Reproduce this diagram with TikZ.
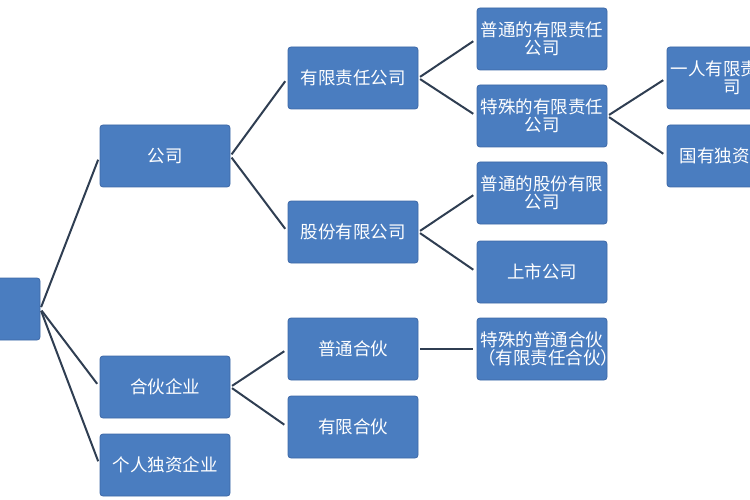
\documentclass[tikz,border=0pt]{standalone}
\usepackage{fontspec}
\newfontfamily\cjk{Noto Sans CJK SC}
\usepackage{tikz}
\usepackage{xcolor}
\definecolor{boxblue}{HTML}{4A7DC0}
\definecolor{boxedge}{HTML}{3D68A6}
\definecolor{linkgray}{HTML}{2F3E52}

\begin{document}
\begin{tikzpicture}[x=1pt, y=-1pt,
		box/.style={rectangle, rounded corners=3pt, fill=boxblue, draw=boxedge, line width=0.8pt,
			minimum width=130pt, minimum height=62pt, inner sep=1pt, text width=128pt,
			text=white, align=center, font=\cjk\fontsize{17.5}{18}\selectfont},
		link/.style={draw=linkgray, line width=2pt, shorten <=2pt, shorten >=4pt}]
		\useasboundingbox (0,0) rectangle (750,500);

		% Root (cut off at the left edge)
		\node[box] (root) at (-25,309) {};

		% Level 1
		\node[box] (gongsi) at (165,156) {公司};
		\node[box] (hehuo) at (165,387) {合伙企业};
		\node[box] (geren) at (165,465) {个人独资企业};

		% Level 2
		\node[box] (youxian) at (353,78) {有限责任公司};
		\node[box] (gufen) at (353,232) {股份有限公司};
		\node[box] (pthh) at (353,349) {普通合伙};
		\node[box] (yxhh) at (353,427) {有限合伙};

		% Level 3
		\node[box] (ptyx) at (542,39) {普通的有限责任\\公司};
		\node[box] (tsyx) at (542,116) {特殊的有限责任\\公司};
		\node[box] (ptgf) at (542,193) {普通的股份有限\\公司};
		\node[box] (shangshi) at (542,272) {上市公司};
		\node[box] (tshh) at (542,349) {特殊的普通合伙\\（有限责任合伙）};

		% Level 4 (cut off at the right edge)
		\node[box] (yiren) at (732,78) {一人有限责任公\\司};
		\node[box] (guoyou) at (732,156) {国有独资公司};

		% Connectors
		\foreach \a/\b in {
			root/gongsi, root/hehuo, root/geren,
			gongsi/youxian, gongsi/gufen,
			hehuo/pthh, hehuo/yxhh,
			youxian/ptyx, youxian/tsyx,
			gufen/ptgf, gufen/shangshi,
			pthh/tshh,
			tsyx/yiren, tsyx/guoyou} {
			\draw[link] (\a.east) -- (\b.west);
		}
	\end{tikzpicture}
\end{document}
